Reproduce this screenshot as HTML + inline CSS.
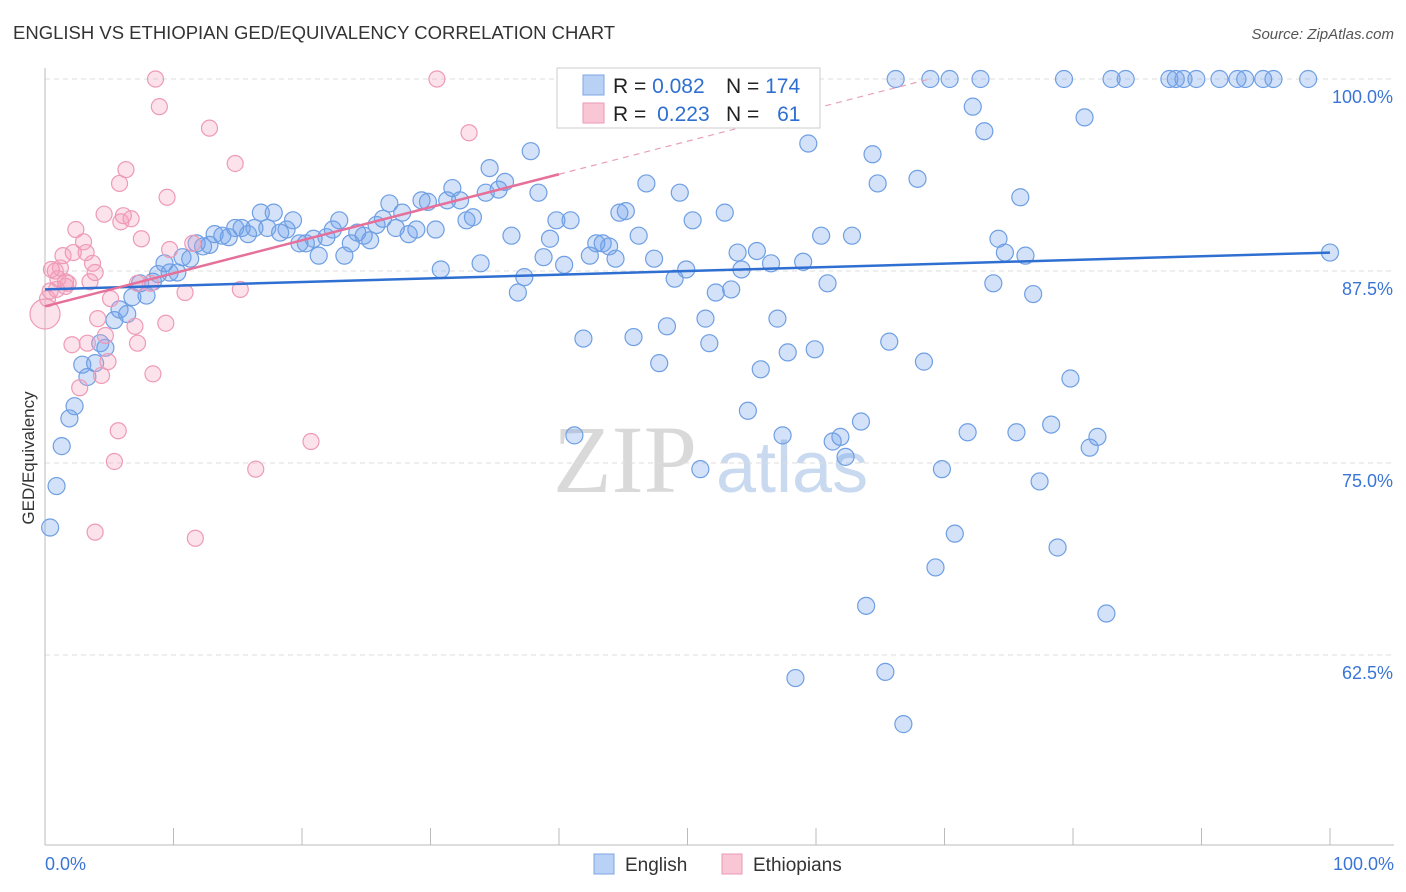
<!DOCTYPE html>
<html><head><meta charset="utf-8">
<style>
body{margin:0;background:#fff;font-family:"Liberation Sans",sans-serif;}
svg{display:block}
</style></head>
<body>
<svg id="chart" width="1406" height="892" xmlns="http://www.w3.org/2000/svg">
<text x="13" y="39" font-size="18.5" fill="#333" font-family="Liberation Sans, sans-serif">ENGLISH VS ETHIOPIAN GED/EQUIVALENCY CORRELATION CHART</text>
<text x="1394" y="39" font-size="15" fill="#555" text-anchor="end" font-style="italic">Source: ZipAtlas.com</text>
<text x="553" y="492" font-size="96" fill="#d9d9d9" font-family="Liberation Serif, serif">ZIP</text>
<text x="716" y="492" font-size="72" fill="#c8d9f0">atlas</text>
<text transform="translate(34,458) rotate(-90)" font-size="17" fill="#333" text-anchor="middle">GED/Equivalency</text>
<g id="grid"></g>
<g id="marks"></g>
<g>
<rect x="557" y="68" width="263" height="60" fill="#fff" stroke="#ccc"/>
<rect x="583" y="75" width="21" height="20" fill="#b9d1f5" stroke="#7da7e3"/>
<rect x="583" y="103" width="21" height="20" fill="#f9c6d6" stroke="#ec9ab5"/>
<text x="613" y="93" font-size="21" fill="#222">R = <tspan fill="#2f6fd1">0.082</tspan></text>
<text x="726" y="93" font-size="21" fill="#222">N = <tspan fill="#2f6fd1">174</tspan></text>
<text x="613" y="121" font-size="21" fill="#222">R = <tspan fill="#2f6fd1" dx="5">0.223</tspan></text>
<text x="726" y="121" font-size="21" fill="#222">N = <tspan fill="#2f6fd1" dx="12">61</tspan></text>
</g>
<g>
<rect x="594" y="854" width="20" height="20" fill="#b9d1f5" stroke="#7da7e3"/>
<text x="625" y="871" font-size="19" fill="#333">English</text>
<rect x="722" y="854" width="20" height="20" fill="#f9c6d6" stroke="#ec9ab5"/>
<text x="753" y="871" font-size="19" fill="#333">Ethiopians</text>
</g>
</svg>
<script>
const yTicks=[100,87.5,75,62.5];
const yTickLabels=["100.0%","87.5%","75.0%","62.5%"];
const xTickLabels=["0.0%","100.0%"];
const englishX=[0.4,0.9,1.3,1.9,2.3,2.9,3.3,3.9,4.3,4.7,5.4,5.8,6.4,6.8,7.4,7.9,8.4,8.8,9.3,9.7,10.3,10.7,11.3,11.8,12.3,12.8,13.2,13.8,14.3,14.8,15.3,15.8,16.3,16.8,17.3,17.8,18.3,18.8,19.3,19.8,20.3,20.9,21.3,21.9,22.4,22.9,23.3,23.8,24.3,24.8,25.3,25.8,26.3,26.8,27.3,27.8,28.3,28.9,29.3,29.8,30.4,30.8,31.3,31.7,32.3,32.8,33.3,33.9,34.3,34.6,35.3,35.8,36.3,36.8,37.3,37.8,38.4,38.8,39.3,39.8,40.4,40.9,41.2,41.9,42.4,42.9,43.4,43.9,44.4,44.7,45.2,45.8,46.2,46.8,47.4,47.8,48.4,49.0,49.4,49.9,50.4,51.0,51.4,51.7,52.2,52.9,53.4,53.9,54.2,54.7,55.4,55.7,56.5,57.0,57.4,57.8,58.4,59.0,59.4,59.9,60.4,60.9,61.3,61.9,62.3,62.8,63.5,63.9,64.4,64.8,65.4,65.7,66.2,66.8,67.9,68.4,68.9,69.3,69.8,70.4,70.8,71.8,72.2,72.8,73.1,73.8,74.2,74.7,75.6,75.9,76.3,76.9,77.4,78.3,78.8,79.3,79.8,80.9,81.3,81.9,82.6,83.0,84.1,87.5,88.0,88.6,89.6,91.4,92.8,93.4,94.8,95.6,98.3,100];
const englishY=[70.8,73.5,76.1,77.9,78.7,81.4,80.6,81.5,82.8,82.5,84.3,85.0,84.7,85.8,86.7,85.9,86.8,87.3,88.0,87.4,87.4,88.4,88.3,89.3,89.1,89.2,89.9,89.8,89.7,90.3,90.3,89.9,90.3,91.3,90.3,91.3,90.0,90.2,90.8,89.3,89.3,89.6,88.5,89.7,90.2,90.8,88.5,89.3,90.0,89.8,89.5,90.5,90.9,91.9,90.3,91.3,89.9,90.2,92.1,92.0,90.2,87.6,92.1,92.9,92.1,90.8,91.0,88.0,92.6,94.2,92.8,93.3,89.8,86.1,87.1,95.3,92.6,88.4,89.6,90.8,87.9,90.8,76.8,83.1,88.5,89.3,89.3,89.1,88.3,91.3,91.4,83.2,89.8,93.2,88.3,81.5,83.9,87.0,92.6,87.6,90.8,74.6,84.4,82.8,86.1,91.3,86.3,88.7,87.6,78.4,88.8,81.1,88.0,84.4,76.8,82.2,61.0,88.1,95.8,82.4,89.8,86.7,76.4,76.7,75.4,89.8,77.7,65.7,95.1,93.2,61.4,82.9,100,58.0,93.5,81.6,100,68.2,74.6,100,70.4,77.0,98.2,100,96.6,86.7,89.6,88.7,77.0,92.3,88.5,86.0,73.8,77.5,69.5,100,80.5,97.5,76.0,76.7,65.2,100,100,100,100,100,100,100,100,100,100,100,100,88.7];
const ethX=[0,0.2,0.4,0.8,1.0,1.2,1.6,1.8,1.4,2.2,2.4,2.1,2.7,3.0,3.2,3.3,3.5,3.7,3.9,3.9,4.1,4.4,4.6,4.7,4.9,5.1,5.4,5.7,5.8,5.9,6.1,6.3,6.7,7.0,7.2,7.5,8.4,8.6,8.9,9.4,9.5,9.7,10.9,11.7,11.5,12.8,14.8,15.2,16.4,20.7,30.5,33.0,0.5,0.9,1.6,7.2,8.2];
const ethY=[84.7,85.7,86.2,87.5,87.0,87.7,86.5,86.7,88.5,88.7,90.2,82.7,79.9,89.4,88.7,82.8,86.8,88.0,87.4,70.5,84.4,80.7,91.2,83.3,81.6,85.7,75.1,77.1,93.2,90.7,91.1,94.1,90.9,83.9,82.8,89.6,80.8,100,98.2,84.1,92.3,88.9,86.1,70.1,89.3,96.8,94.5,86.3,74.6,76.4,100,96.5,87.6,86.3,86.8,86.7,86.7];
const englishTrend=[86.3,88.7];
const ethTrend=[85.2,93.8]; // at 0% and 40%
const NS="http://www.w3.org/2000/svg";
const X0=45,X1=1330,YTOP=79,PX=192/12.5;
const xs=v=>X0+(X1-X0)*v/100;
const ys=v=>YTOP+(100-v)*PX;
function mk(tag,attrs,parent){const e=document.createElementNS(NS,tag);for(const k in attrs)e.setAttribute(k,attrs[k]);parent.appendChild(e);return e;}
const grid=document.getElementById('grid'),marks=document.getElementById('marks');
yTicks.forEach((t,i)=>{
  const l=mk('line',{x1:X0,x2:1394,y1:ys(t),y2:ys(t),stroke:'#ddd','stroke-dasharray':'5,4'},grid);
  
  
  const tx=mk('text',{x:1393,y:ys(t)+24,'font-size':18,fill:'#3a75d6','text-anchor':'end'},grid);
  tx.textContent=yTickLabels[i];
  
  
});
const ax=mk('line',{x1:X0,x2:1394,y1:845,y2:845,stroke:'#bbb'},grid);


const ay=mk('line',{x1:X0,x2:X0,y1:68,y2:845,stroke:'#bbb'},grid);


for(let i=0;i<=10;i++){
  const t=mk('line',{x1:xs(i*10),x2:xs(i*10),y1:828,y2:845,stroke:'#bbb'},grid);
  
  
}
[[0,'start',45],[100,'end',1394]].forEach((d,i)=>{
  const t=mk('text',{x:d[2],y:870,'font-size':18,fill:'#3a75d6','text-anchor':d[1]},grid);
  t.textContent=xTickLabels[i];
  
  
});
englishX.forEach((x,i)=>{
  const c=mk('circle',{cx:xs(x),cy:ys(englishY[i]),r:8.5,fill:'rgba(110,160,235,0.3)',stroke:'#6f9fe3','stroke-width':1.2},marks);
  
  
});
ethX.forEach((x,i)=>{
  const c=mk('circle',{cx:xs(x),cy:ys(ethY[i]),r:i===0?15:8,fill:'rgba(245,160,190,0.3)',stroke:'#ee9ab6','stroke-width':1.2},marks);
  
  
});
const bl=mk('line',{x1:xs(0),y1:ys(englishTrend[0]),x2:xs(100),y2:ys(englishTrend[1]),stroke:'#2f6fd1','stroke-width':2.5},marks);


const slope=(ethTrend[1]-ethTrend[0])/40;
const xEnd=Math.min(100,(100-ethTrend[0])/slope);
const pd=mk('line',{x1:xs(40),y1:ys(ethTrend[1]),x2:xs(xEnd),y2:ys(ethTrend[0]+slope*xEnd),stroke:'#e8a0b8','stroke-width':1.2,'stroke-dasharray':'6,5'},marks);


const pl=mk('line',{x1:xs(0),y1:ys(ethTrend[0]),x2:xs(40),y2:ys(ethTrend[1]),stroke:'#e5709a','stroke-width':2.5},marks);


</script>
</body></html>
